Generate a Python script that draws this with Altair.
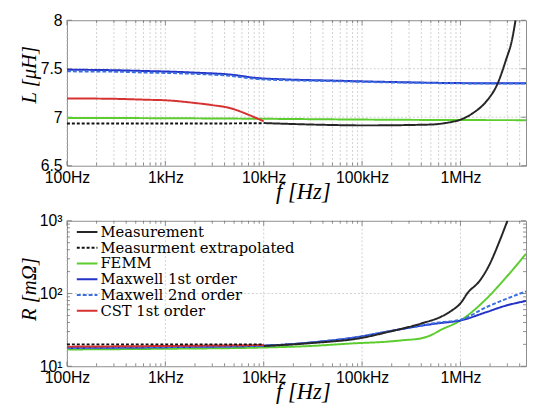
import altair as alt
import pandas as pd

# ---------------- data ----------------
SERIES = ["Measurement", "Measurment extrapolated", "FEMM",
          "Maxwell 1st order", "Maxwell 2nd order", "CST 1st order"]
COLORS = ["#262626", "#111111", "#5ccc2e", "#2432c8", "#3b6fe0", "#d63232"]
DASHES = [[1, 0], [3, 2], [1, 0], [1, 0], [4, 2], [1, 0]]

# top panel: inductance L [uH]
L_meas_f = [1e4, 2e4, 5e4, 1e5, 2e5, 3e5, 5.3e5, 7e5, 8.45e5, 1.0e6, 1.34e6, 1.82e6, 2.38e6, 2.88e6, 3.37e6, 3.63e6]
L_meas_v = [6.94, 6.93, 6.92, 6.916, 6.917, 6.92, 6.926, 6.94, 6.955, 6.975, 7.043, 7.16, 7.345, 7.58, 7.815, 8.0]
L_extr_f = [100, 1e3, 1e4]
L_extr_v = [6.935, 6.935, 6.938]
L_femm_f = [100, 1e3, 1e4, 1e5, 1e6, 4.64e6]
L_femm_v = [6.993, 6.99, 6.984, 6.976, 6.971, 6.97]
L_mx1_f = [100, 300, 672, 1e3, 2e3, 4.57e3, 8.5e3, 1.7e4, 5e4, 1e5, 3e5, 1e6, 4.64e6]
L_mx1_v = [7.49, 7.485, 7.476, 7.472, 7.46, 7.44, 7.405, 7.39, 7.378, 7.37, 7.36, 7.352, 7.35]
L_mx2_f = [100, 300, 672, 1e3, 2e3, 4.57e3, 8.5e3, 1.7e4, 5e4, 1e5, 3e5, 1e6, 4.64e6]
L_mx2_v = [7.473, 7.47, 7.46, 7.457, 7.447, 7.427, 7.395, 7.382, 7.372, 7.365, 7.356, 7.349, 7.347]
L_cst_f = [100, 300, 672, 1e3, 2.12e3, 3e3, 4.57e3, 6.72e3, 1e4]
L_cst_v = [7.194, 7.19, 7.18, 7.175, 7.144, 7.125, 7.094, 7.033, 6.958]

# bottom panel: resistance R [mOhm]
R_meas_f = [1e4, 3e4, 1e5, 1.82e5, 3.93e5, 6.72e5, 8.13e5, 1e6, 1.19e6, 1.56e6, 1.97e6, 2.48e6, 3.0e6]
R_meas_v = [19.0, 20.8, 24.6, 29.5, 38.5, 49.8, 58.2, 73.2, 103, 148, 249, 513, 1000]
R_extr_f = [100, 1e3, 1e4]
R_extr_v = [20.0, 20.0, 20.0]
R_femm_f = [100, 1e3, 1e4, 3e4, 8.45e4, 1.82e5, 2.7e5, 3.93e5, 5e5, 6.22e5, 1e6, 1.82e6, 2.88e6, 4.64e6]
R_femm_v = [17.0, 17.4, 18.1, 19.0, 20.7, 21.8, 22.9, 24.1, 26.7, 31.3, 42.6, 83.8, 164, 352]
R_mx1_f = [100, 1e3, 1e4, 3e4, 8.45e4, 1.82e5, 3.93e5, 6e5, 1e6, 1.82e6, 2.88e6, 4.64e6]
R_mx1_v = [17.8, 18.3, 19.2, 21.2, 24.9, 30.0, 36.0, 39.0, 42.6, 55.3, 68, 79]
R_mx2_f = [100, 1e3, 1e4, 3e4, 8.45e4, 1.82e5, 3.93e5, 6e5, 1e6, 1.82e6, 2.88e6, 4.64e6]
R_mx2_v = [17.8, 18.3, 19.2, 21.2, 24.9, 30.0, 36.0, 40.0, 43.5, 64.6, 83.8, 107]
R_cst_f = [100, 1e3, 1e4]
R_cst_v = [18.6, 19.0, 19.6]

X_DOMAIN = [100, 4.64e6]
X_MAJOR = [100, 1e3, 1e4, 1e5, 1e6]
X_LABELS = ["100Hz", "1kHz", "10kHz", "100kHz", "1MHz"]
X_MINOR = [k * 10 ** d for d in range(2, 7) for k in range(2, 10) if k * 10 ** d <= 4.64e6]
L_TICKS = [6.5, 7, 7.5, 8]
L_GRID = [7, 7.5]
R_TICKS = [10, 100, 1000]
R_LABELS = ["10¹", "10²", "10³"]
R_MINOR = [k * 10 ** d for d in (1, 2) for k in range(2, 10)]

W, H1, H2 = 467, 148, 148


def frame(series_data):
    parts = []
    for name, fs, vs in series_data:
        parts.append(pd.DataFrame({"f": fs, "v": vs, "series": name}))
    return pd.concat(parts, ignore_index=True)


L_df = frame([
    ("FEMM", L_femm_f, L_femm_v),
    ("Maxwell 1st order", L_mx1_f, L_mx1_v),
    ("Maxwell 2nd order", L_mx2_f, L_mx2_v),
    ("CST 1st order", L_cst_f, L_cst_v),
    ("Measurment extrapolated", L_extr_f, L_extr_v),
    ("Measurement", L_meas_f, L_meas_v),
])
R_df = frame([
    ("FEMM", R_femm_f, R_femm_v),
    ("Maxwell 1st order", R_mx1_f, R_mx1_v),
    ("Maxwell 2nd order", R_mx2_f, R_mx2_v),
    ("CST 1st order", R_cst_f, R_cst_v),
    ("Measurment extrapolated", R_extr_f, R_extr_v),
    ("Measurement", R_meas_f, R_meas_v),
])

x_scale = alt.Scale(type="log", domain=X_DOMAIN, nice=False)
label_expr = " : ".join(
    [f"datum.value == {v:g} ? '{t}'" for v, t in zip(X_MAJOR, X_LABELS)]) + " : ''"
r_label_expr = " : ".join(
    [f"datum.value == {v:g} ? '{t}'" for v, t in zip(R_TICKS, R_LABELS)]) + " : ''"

GRID_COL = "#c4c4c4"
TICK_COL = "#707070"
X_TITLE = "f [Hz]"
LEG_FONT = "DejaVu Serif"


def panel(df, yscale, yaxis, H, xgrid_vals, ygrid_vals, ymajor, yminor, legend):
    xaxis = alt.Axis(values=X_MAJOR, labelExpr=label_expr, title=X_TITLE,
                     labelFlush=False, labelPadding=4, titleY=15, titleX=240,
                     titleAlign="center", titleFontSize=23)
    X = lambda: alt.X("f:Q", scale=x_scale, axis=xaxis)
    Y = lambda: alt.Y("v:Q", scale=yscale, axis=yaxis)
    layers = []
    gx = pd.DataFrame({"f": xgrid_vals})
    layers.append(alt.Chart(gx).mark_rule(color=GRID_COL, strokeDash=[2, 2], strokeWidth=0.8)
                  .encode(x=X(), y=alt.value(0), y2=alt.value(H)))
    gy = pd.DataFrame({"v": ygrid_vals})
    layers.append(alt.Chart(gy).mark_rule(color=GRID_COL, strokeDash=[2, 2], strokeWidth=0.8)
                  .encode(y=Y(), x=alt.value(0), x2=alt.value(W)))
    # x ticks, inward, bottom and top
    for vals, ln in ((X_MAJOR, 5), (X_MINOR, 3)):
        d = pd.DataFrame({"f": vals})
        for y0, y1 in ((H, H - ln), (0, ln)):
            layers.append(alt.Chart(d).mark_rule(color=TICK_COL, strokeWidth=0.8)
                          .encode(x=X(), y=alt.value(y0), y2=alt.value(y1)))
    for vals, ln in ((ymajor, 5), (yminor, 3)):
        if not vals:
            continue
        d = pd.DataFrame({"v": vals})
        for x0, x1 in ((0, ln), (W, W - ln)):
            layers.append(alt.Chart(d).mark_rule(color=TICK_COL, strokeWidth=0.8)
                          .encode(y=Y(), x=alt.value(x0), x2=alt.value(x1)))
    if legend:
        leg = alt.Legend(title=None, orient="none", legendX=9, legendY=4,
                         symbolType="stroke", symbolSize=441, symbolStrokeWidth=2,
                         clipHeight=15, rowPadding=-0.5, padding=0, labelOffset=2,
                         labelLimit=300, labelFont=LEG_FONT, labelFontSize=15,
                         labelColor="black")
        color = alt.Color("series:N", scale=alt.Scale(domain=SERIES, range=COLORS), legend=leg)
        dash = alt.StrokeDash("series:N", scale=alt.Scale(domain=SERIES, range=DASHES), legend=leg)
    else:
        color = alt.Color("series:N", scale=alt.Scale(domain=SERIES, range=COLORS), legend=None)
        dash = alt.StrokeDash("series:N", scale=alt.Scale(domain=SERIES, range=DASHES), legend=None)
    lines = alt.Chart(df).mark_line(strokeWidth=2, interpolate="monotone", clip=True).encode(
        x=X(), y=Y(), color=color, strokeDash=dash, detail="series:N",
    )
    layers.append(lines)
    return alt.layer(*layers).properties(width=W, height=H)


top = panel(
    L_df,
    alt.Scale(domain=[6.5, 8], nice=False, zero=False),
    alt.Axis(values=L_TICKS, format="~g", title="L [μH]", labelPadding=5,
             titleX=-28, titleY=55, titleAngle=270, titleAlign="center",
             titleBaseline="bottom", titleFontSize=21),
    H1, X_MAJOR + X_MINOR, L_GRID, L_TICKS, [], False,
)
bottom = panel(
    R_df,
    alt.Scale(type="log", domain=[10, 1000], nice=False),
    alt.Axis(values=R_TICKS, labelExpr=r_label_expr,
             title="R [mΩ]", labelPadding=5, titleX=-28, titleY=69, titleAngle=270,
             titleAlign="center", titleBaseline="bottom", titleFontSize=21),
    H2, X_MAJOR, [100], R_TICKS, R_MINOR, True,
)

chart = alt.vconcat(top, bottom, spacing=56, bounds="flush").resolve_scale(
    color="independent", strokeDash="independent"
).properties(
    padding={"left": 10, "top": 0, "right": 0, "bottom": 0}
).configure_view(stroke="#8c8c8c", strokeWidth=1).configure_axis(
    labelFont="Liberation Sans", labelFontSize=16, labelColor="black",
    titleFont="Liberation Serif", titleFontStyle="italic", titleFontWeight="normal",
    titleFontSize=20, titleColor="black", grid=False, ticks=False, domain=False,
).configure_legend(
    labelFont=LEG_FONT, labelFontSize=15, labelColor="black",
)

chart.save("out.html", embed_options={"renderer": "svg", "actions": False})
